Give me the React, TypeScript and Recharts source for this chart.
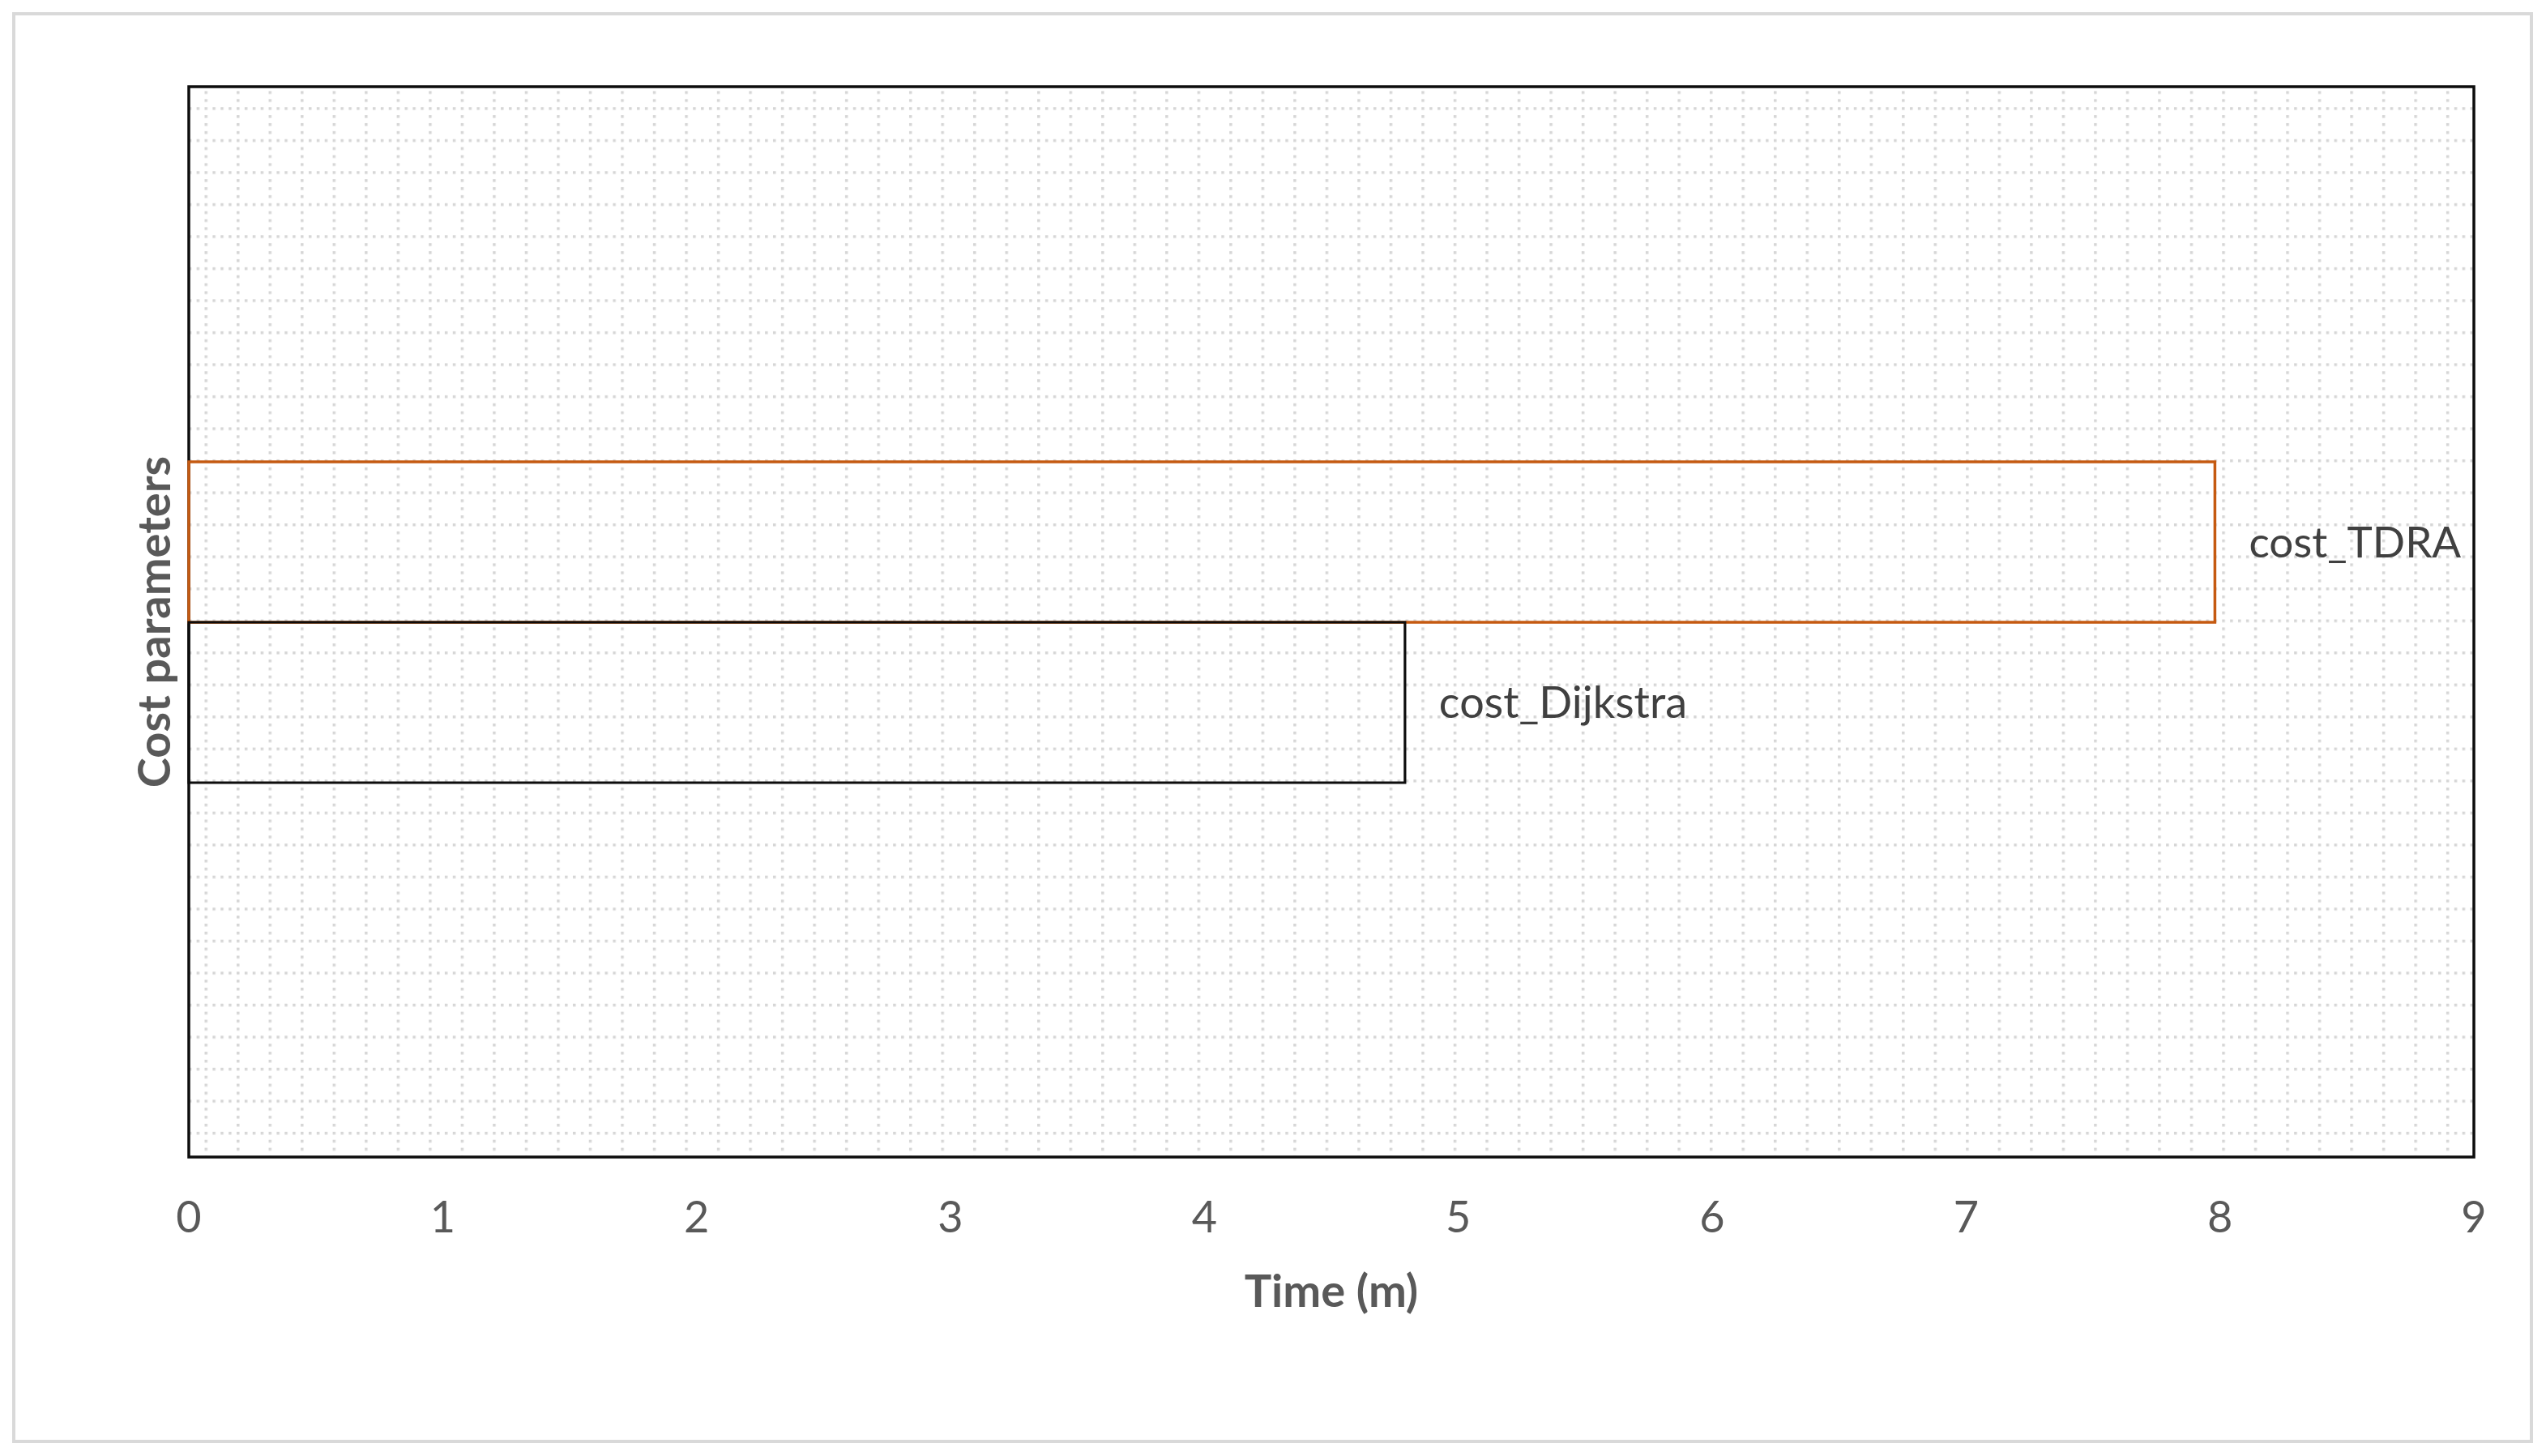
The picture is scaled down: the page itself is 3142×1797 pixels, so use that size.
import React from 'react';
import { BarChart, Bar, XAxis, YAxis, CartesianGrid, ReferenceArea, LabelList } from 'recharts';

const categories = ['Cost parameters'];
const tdraValues = [7.98];
const dijkstraValues = [4.79];
const xTicks = [0, 1, 2, 3, 4, 5, 6, 7, 8, 9];
const seriesNames = { tdra: 'cost_TDRA', dijkstra: 'cost_Dijkstra' };

const data = categories.map((c, i) => ({
  cat: c,
  tdra: tdraValues[i],
  dijkstra: dijkstraValues[i],
}));

const FONT = 'Lato, "Open Sans", sans-serif';
const P = 39.52;
const q = P / 4;

export default function App() {
  return (
    <div style={{ position: 'absolute', left: 0, top: 0, width: 3142, height: 1797, background: '#fff' }}>
      <svg width={0} height={0} style={{ position: 'absolute' }}>
        <defs>
          <pattern id="dotgrid" patternUnits="userSpaceOnUse" x={252.5} y={132.2} width={P} height={P}>
            <rect x={0} y={0} width={3.5} height={3.5} fill="#d6d6d6" />
            <rect x={q} y={0} width={3.5} height={3.5} fill="#d6d6d6" />
            <rect x={2 * q} y={0} width={3.5} height={3.5} fill="#d6d6d6" />
            <rect x={3 * q} y={0} width={3.5} height={3.5} fill="#d6d6d6" />
            <rect x={0} y={q} width={3.5} height={3.5} fill="#d6d6d6" />
            <rect x={0} y={2 * q} width={3.5} height={3.5} fill="#d6d6d6" />
            <rect x={0} y={3 * q} width={3.5} height={3.5} fill="#d6d6d6" />
          </pattern>
        </defs>
      </svg>
      <div
        style={{
          position: 'absolute',
          left: 15,
          top: 15,
          width: 3111,
          height: 1766,
          border: '4px solid #d9d9d9',
          boxSizing: 'border-box',
          pointerEvents: 'none',
        }}
      />
      <BarChart
        width={3142}
        height={1797}
        data={data}
        layout="vertical"
        margin={{ top: 107, right: 89, bottom: 169, left: 147 }}
        barCategoryGap={463}
        barGap={0}
      >
        <CartesianGrid fill="url(#dotgrid)" horizontal={false} vertical={false} />
        <XAxis
          type="number"
          domain={[0, 9]}
          ticks={xTicks}
          interval={0}
          axisLine={false}
          tickLine={false}
          tickSize={0}
          tickMargin={55}
          height={200}
          tick={{ fontSize: 54, fill: '#595959', fontFamily: FONT }}
          label={{
            value: 'Time (m)',
            position: 'insideTop',
            offset: 145,
            fontSize: 56,
            fontWeight: 700,
            fill: '#595959',
            fontFamily: FONT,
          }}
        />
        <YAxis
          type="category"
          dataKey="cat"
          width={86}
          tick={false}
          axisLine={false}
          tickLine={false}
          label={{
            value: 'Cost parameters',
            position: 'center',
            angle: -90,
            fontSize: 56,
            fontWeight: 700,
            fill: '#595959',
            fontFamily: FONT,
          }}
        />
        <Bar dataKey="tdra" name={seriesNames.tdra} fill="none" stroke="#C55A11" strokeWidth={3.5} isAnimationActive={false}>
          <LabelList
            dataKey="tdra"
            position="right"
            offset={42}
            formatter={() => seriesNames.tdra}
            style={{ fontSize: 53, fill: '#404040', fontFamily: FONT }}
          />
        </Bar>
        <Bar dataKey="dijkstra" name={seriesNames.dijkstra} fill="none" stroke="#0d0d0d" strokeWidth={3.2} isAnimationActive={false}>
          <LabelList
            dataKey="dijkstra"
            position="right"
            offset={42}
            formatter={() => seriesNames.dijkstra}
            style={{ fontSize: 54, fill: '#404040', fontFamily: FONT }}
          />
        </Bar>
        <ReferenceArea x1={0} x2={9} fill="none" stroke="#0d0d0d" strokeWidth={3.5} ifOverflow="visible" />
      </BarChart>
    </div>
  );
}
